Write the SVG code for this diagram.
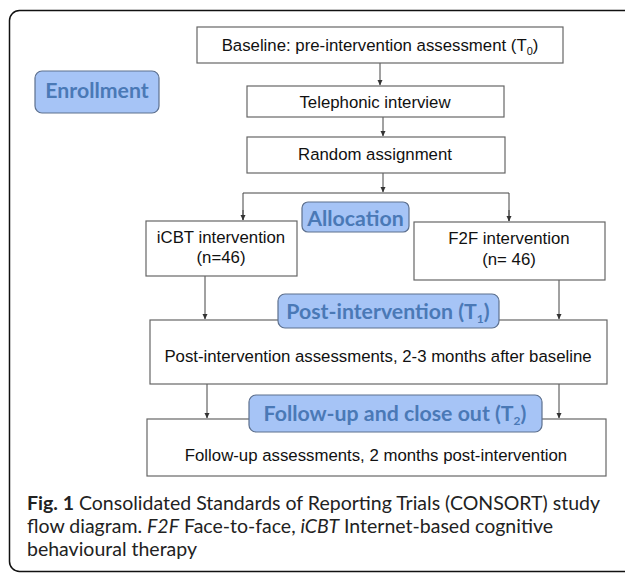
<svg xmlns="http://www.w3.org/2000/svg" width="625" height="573" viewBox="0 0 625 573">
<defs>
<marker id="ah" markerWidth="6" markerHeight="6" refX="5" refY="3" orient="auto" markerUnits="userSpaceOnUse">
<path d="M0,0.5 L5.5,3 L0,5.5 z" fill="#333"/>
</marker>
<style>
.box{fill:#fff;stroke:#666;stroke-width:1.2}
.lbl{fill:#a6c4f6;stroke:#5d708e;stroke-width:1.2}
.bt{font-family:"Liberation Sans",Arial,sans-serif;font-size:16.8px;fill:#111;text-anchor:middle}
.lt{font-family:Lato,"Open Sans",sans-serif;font-weight:bold;font-size:21.3px;fill:#4a79b6;text-anchor:middle}
.cap{font-family:Lato,"Open Sans",sans-serif;font-size:19.5px;fill:#222}
.ln{fill:none;stroke:#444;stroke-width:1}
</style>
</defs>
<rect x="9.5" y="10.5" width="640" height="561" rx="10" fill="#fff" stroke="#111" stroke-width="1.5"/>

<g id="connectors">
<line class="ln" x1="380" y1="63" x2="380" y2="85" marker-end="url(#ah)"/>
<line class="ln" x1="383" y1="117" x2="383" y2="136" marker-end="url(#ah)"/>
<line class="ln" x1="383" y1="173" x2="383" y2="192" marker-end="url(#ah)"/>
<polyline class="ln" points="243,220 243,193 509,193 509,221" />
<line class="ln" x1="243" y1="210" x2="243" y2="220" marker-end="url(#ah)"/>
<line class="ln" x1="509" y1="210" x2="509" y2="221" marker-end="url(#ah)"/>
<line class="ln" x1="205" y1="276" x2="205" y2="319" marker-end="url(#ah)"/>
<line class="ln" x1="559" y1="280" x2="559" y2="319" marker-end="url(#ah)"/>
<line class="ln" x1="207" y1="384" x2="207" y2="418" marker-end="url(#ah)"/>
<line class="ln" x1="559" y1="384" x2="559" y2="418" marker-end="url(#ah)"/>
</g>

<g id="baseline">
<rect class="box" x="197" y="27" width="366" height="36"/>
<text class="bt" x="380" y="51">Baseline: pre-intervention assessment (T<tspan font-size="11" dy="4">0</tspan><tspan dy="-4">)</tspan></text>
</g>
<g id="telephonic">
<rect class="box" x="247" y="86" width="257" height="31"/>
<text class="bt" x="375" y="108">Telephonic interview</text>
</g>
<g id="random">
<rect class="box" x="247" y="137" width="258" height="36"/>
<text class="bt" x="375" y="160">Random assignment</text>
</g>
<g id="icbt">
<rect class="box" x="146" y="221" width="151" height="55"/>
<text class="bt" x="221" y="243">iCBT intervention</text>
<text class="bt" x="221" y="263">(n=46)</text>
</g>
<g id="f2f">
<rect class="box" x="414" y="222" width="191" height="58"/>
<text class="bt" x="509" y="244">F2F intervention</text>
<text class="bt" x="509" y="265">(n= 46)</text>
</g>
<g id="post">
<rect class="box" x="150" y="320" width="457" height="64"/>
<text class="bt" x="378" y="362">Post-intervention assessments, 2-3 months after baseline</text>
</g>
<g id="followup">
<rect class="box" x="147" y="419" width="459" height="57"/>
<text class="bt" x="376" y="461">Follow-up assessments, 2 months post-intervention</text>
</g>

<g id="enrollment-label">
<rect class="lbl" x="35" y="71" width="124" height="42" rx="7"/>
<text class="lt" x="97" y="97.5">Enrollment</text>
</g>
<g id="allocation-label">
<rect class="lbl" x="302" y="202" width="107" height="30" rx="6"/>
<text class="lt" x="355.5" y="226">Allocation</text>
</g>
<g id="post-label">
<rect class="lbl" x="278" y="294" width="221" height="34" rx="7"/>
<text class="lt" x="388" y="319">Post-intervention (T<tspan font-size="12" dy="4">1</tspan><tspan dy="-4">)</tspan></text>
</g>
<g id="followup-label">
<rect class="lbl" x="249" y="395" width="293" height="37" rx="7"/>
<text class="lt" x="395" y="420.5">Follow-up and close out (T<tspan font-size="12" dy="4">2</tspan><tspan dy="-4">)</tspan></text>
</g>

<g id="caption">
<text class="cap" x="27" y="510"><tspan font-weight="bold">Fig. 1</tspan> Consolidated Standards of Reporting Trials (CONSORT) study</text>
<text class="cap" x="27" y="533">flow diagram. <tspan font-style="italic">F2F</tspan> Face-to-face, <tspan font-style="italic">iCBT</tspan> Internet-based cognitive</text>
<text class="cap" x="27" y="556">behavioural therapy</text>
</g>
</svg>
